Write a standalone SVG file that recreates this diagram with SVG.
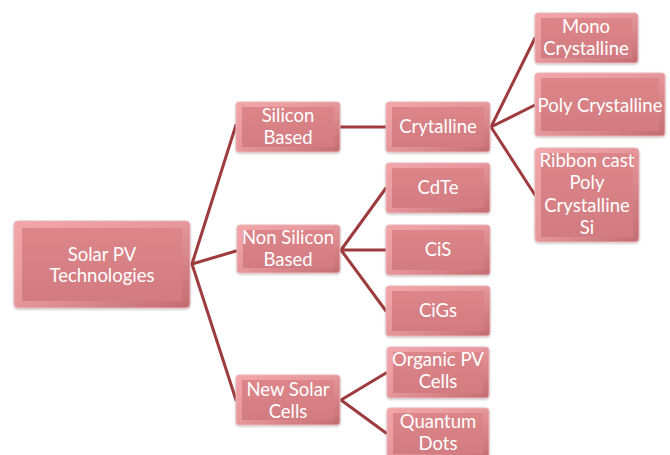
<svg xmlns="http://www.w3.org/2000/svg" width="670" height="455" viewBox="0 0 670 455">
<defs>
<linearGradient id="edge" x1="0" y1="0" x2="1" y2="1">
<stop offset="0" stop-color="#F3A6A9"/>
<stop offset="0.5" stop-color="#E5969A"/>
<stop offset="1" stop-color="#C26C71"/>
</linearGradient>
<linearGradient id="face" x1="0" y1="0" x2="0" y2="1">
<stop offset="0" stop-color="#DC868A"/>
<stop offset="1" stop-color="#D27C81"/>
</linearGradient>
<filter id="sh" x="-10%" y="-10%" width="120%" height="130%">
<feDropShadow dx="0" dy="1" stdDeviation="1.2" flood-color="#000" flood-opacity="0.25"/>
</filter>
</defs>
<style>
.o{fill:url(#edge);stroke:#E9B7B9;stroke-width:1;filter:url(#sh)}
.i{fill:url(#face)}
text{font-family:Lato,"Open Sans","Liberation Sans",sans-serif;fill:#fff;text-anchor:middle;font-size:18.5px}
.c{stroke:#9E3B3E;stroke-width:3;fill:none;stroke-linecap:round}
</style>
<g id="connectors">
<path class="c" d="M192 264 L236 125 M192 264 L236 251 M192 264 L236 400"/>
<path class="c" d="M340 127 L386 127"/>
<path class="c" d="M341 250 L386 188 M341 250 L386 250 M341 250 L386 311"/>
<path class="c" d="M341 400 L386 373 M341 400 L386 433"/>
<path class="c" d="M491 127 L535 38 M491 127 L535 105 M491 127 L535 195"/>
</g>
<g id="n-solar">
<rect class="o" x="14" y="221" width="176" height="87" rx="4"/>
<rect class="i" x="22" y="228" width="160" height="73"/>
<text x="102" y="261">Solar PV</text><text x="102" y="282">Technologies</text>
</g>
<g id="n-silicon">
<rect class="o" x="236" y="102" width="104" height="50" rx="3"/>
<rect class="i" x="242" y="107" width="92" height="40"/>
<text x="288" y="122">Silicon</text><text x="288" y="144">Based</text>
</g>
<g id="n-nonsilicon">
<rect class="o" x="237" y="225" width="103" height="48" rx="3"/>
<rect class="i" x="243" y="230" width="91" height="38"/>
<text x="288" y="244">Non Silicon</text><text x="288" y="266">Based</text>
</g>
<g id="n-newsolar">
<rect class="o" x="236" y="375" width="104" height="50" rx="3"/>
<rect class="i" x="242" y="380" width="92" height="40"/>
<text x="288" y="396">New Solar</text><text x="288" y="418">Cells</text>
</g>
<g id="n-crytalline">
<rect class="o" x="386" y="102" width="104" height="50" rx="3"/>
<rect class="i" x="392" y="107" width="92" height="40"/>
<text x="438" y="133">Crytalline</text>
</g>
<g id="n-cdte">
<rect class="o" x="386" y="163" width="104" height="50" rx="3"/>
<rect class="i" x="392" y="168" width="92" height="40"/>
<text x="438" y="194">CdTe</text>
</g>
<g id="n-cis">
<rect class="o" x="386" y="225" width="104" height="50" rx="3"/>
<rect class="i" x="392" y="230" width="92" height="40"/>
<text x="438" y="256">CiS</text>
</g>
<g id="n-cigs">
<rect class="o" x="386" y="286" width="104" height="50" rx="3"/>
<rect class="i" x="392" y="291" width="92" height="40"/>
<text x="438" y="317">CiGs</text>
</g>
<g id="n-organic">
<rect class="o" x="387" y="347" width="102" height="51" rx="3"/>
<rect class="i" x="393" y="352" width="90" height="41"/>
<text x="438" y="366">Organic PV</text><text x="438" y="388">Cells</text>
</g>
<g id="n-quantum">
<rect class="o" x="387" y="408" width="102" height="51" rx="3"/>
<rect class="i" x="393" y="413" width="90" height="41"/>
<text x="438" y="428">Quantum</text><text x="438" y="450">Dots</text>
</g>
<g id="n-mono">
<rect class="o" x="535" y="13" width="103" height="50" rx="3"/>
<rect class="i" x="541" y="18" width="91" height="40"/>
<text x="586" y="33">Mono</text><text x="586" y="55">Crystalline</text>
</g>
<g id="n-poly">
<rect class="o" x="535" y="73" width="130" height="63" rx="3"/>
<rect class="i" x="541" y="78" width="118" height="53"/>
<text x="600" y="112">Poly Crystalline</text>
</g>
<g id="n-ribbon">
<rect class="o" x="535" y="148" width="104" height="94" rx="4"/>
<rect class="i" x="541" y="153" width="92" height="84"/>
<text x="587" y="167">Ribbon cast</text><text x="587" y="189">Poly</text><text x="587" y="212">Crystalline</text><text x="587" y="234">Si</text>
</g>
</svg>
